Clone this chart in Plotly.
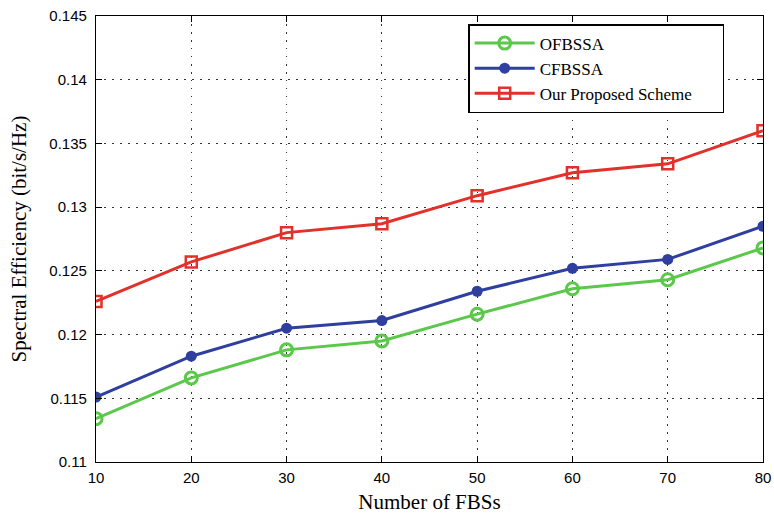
import plotly.graph_objects as go

fbs = [10, 20, 30, 40, 50, 60, 70, 80]
ofbssa = [0.1134, 0.1166, 0.1188, 0.1195, 0.1216, 0.1236, 0.1243, 0.1268]
cfbssa = [0.1151, 0.1183, 0.1205, 0.1211, 0.1234, 0.1252, 0.1259, 0.1285]
proposed = [0.1226, 0.1257, 0.1280, 0.1287, 0.1309, 0.1327, 0.1334, 0.1360]

y_ticks = [0.11, 0.115, 0.12, 0.125, 0.13, 0.135, 0.14, 0.145]
y_tick_text = ["0.11", "0.115", "0.12", "0.125", "0.13", "0.135", "0.14", "0.145"]
x_ticks = [10, 20, 30, 40, 50, 60, 70, 80]
names = ["OFBSSA", "CFBSSA", "Our Proposed Scheme"]

fig = go.Figure()
fig.add_trace(go.Scatter(x=fbs, y=ofbssa, name=names[0], mode="lines+markers",
                         line=dict(color="#5BC84B", width=3),
                         marker=dict(symbol="circle-open", size=12, line=dict(width=3, color="#5BC84B"))))
fig.add_trace(go.Scatter(x=fbs, y=cfbssa, name=names[1], mode="lines+markers",
                         line=dict(color="#2E3F9F", width=3),
                         marker=dict(symbol="circle", size=11, color="#2E3F9F")))
fig.add_trace(go.Scatter(x=fbs, y=proposed, name=names[2] + "\u00a0" * 6, mode="lines+markers",
                         line=dict(color="#E2302A", width=3),
                         marker=dict(symbol="square-open", size=11, line=dict(width=2.5, color="#E2302A"))))

axis_common = dict(showline=True, linecolor="black", linewidth=1.3, mirror="ticks",
                   ticks="inside", ticklen=6, tickcolor="black", automargin=False,
                   showgrid=True, gridcolor="#333333", griddash="1.5px,6.5px", gridwidth=1.2,
                   zeroline=False, tickfont=dict(family="Liberation Sans, Arial", size=15, color="black"))

fig.update_layout(
    width=774, height=514,
    margin=dict(l=96, r=11, t=16, b=52, autoexpand=False),
    plot_bgcolor="white", paper_bgcolor="white",
    xaxis=dict(range=[10, 80], tickvals=x_ticks, ticklabelstandoff=2,
               title=dict(text="Number of FBSs", standoff=14,
                          font=dict(family="Liberation Serif, Times New Roman", size=21, color="black")),
               **axis_common),
    yaxis=dict(range=[0.11, 0.145], tickvals=y_ticks, ticktext=y_tick_text, ticklabelstandoff=5,
               title=dict(text="Spectral Efficiency (bit/s/Hz)", standoff=16,
                          font=dict(family="Liberation Serif, Times New Roman", size=21, color="black")),
               **axis_common),
    legend=dict(x=0.558, y=0.982, xanchor="left", yanchor="top",
                bgcolor="white", bordercolor="black", borderwidth=1.5,
                font=dict(family="Liberation Serif, Times New Roman", size=17, color="black"),
                tracegroupgap=2, itemwidth=60),
    showlegend=True,
)

fig.write_html("out.html", config={"displayModeBar": False},
               post_script="document.body.style.margin='0';document.body.style.overflow='hidden';")
